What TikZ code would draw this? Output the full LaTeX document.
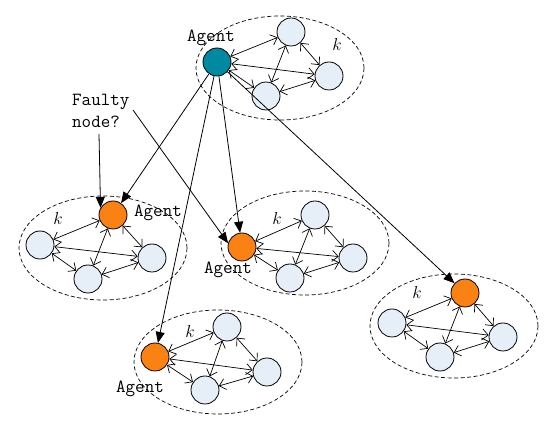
\documentclass[tikz,border=0pt]{standalone}
\usetikzlibrary{arrows.meta,shapes.geometric}
\definecolor{nodeblue}{RGB}{230,238,248}
\definecolor{agteal}{RGB}{0,137,160}
\definecolor{agorange}{RGB}{250,130,20}
\begin{document}
\begin{tikzpicture}[x=1pt,y=-1pt,
  vtx/.style={circle,draw,line width=0.8pt,fill=nodeblue,minimum size=28pt,inner sep=0pt},
  tealagent/.style={vtx,fill=agteal},
  orangeagent/.style={vtx,fill=agorange},
  cluster/.style={ellipse,draw,dash pattern=on 4pt off 2.5pt,line width=0.7pt,inner sep=0pt,minimum width=168pt,minimum height=104pt},
  link/.style={line width=0.7pt,{Straight Barb[length=6pt,width=11pt]}-{Straight Barb[length=6pt,width=11pt]}},
  call/.style={line width=0.8pt,-{Triangle[length=11pt,width=9pt]}},
  lbl/.style={font=\ttfamily\fontsize{18.5}{22}\selectfont,inner sep=0pt},
  kl/.style={font=\fontsize{17}{20}\selectfont,inner sep=0pt}]
\useasboundingbox (0,0) rectangle (550,422);

% clusters
\node[cluster] (C0) at (280,68) {};
\node[cluster] (C1) at (103,248) {};
\node[cluster] (C2) at (305,243) {};
\node[cluster] (C3) at (454,326) {};
\node[cluster] (C4) at (218,362) {};

% top cluster
\node[tealagent] (A0) at (217,62) {};
\node[vtx] (T1) at (291,32) {};
\node[vtx] (T2) at (329,76) {};
\node[vtx] (T3) at (266,96) {};
\node[lbl] (LA0) at (211,38) {Agent};
\node[kl] (K0) at (337,45) {$k$};

% left cluster
\node[orangeagent] (A1) at (113,215) {};
\node[vtx] (L1) at (40,245) {};
\node[vtx] (L2) at (152,258) {};
\node[vtx] (L3) at (88,279) {};
\node[lbl] (LA1) at (158,213) {Agent};
\node[kl] (K1) at (58,219) {$k$};

% middle cluster
\node[orangeagent] (A2) at (242,247) {};
\node[vtx] (M1) at (315,215) {};
\node[vtx] (M2) at (353,258) {};
\node[vtx] (M3) at (290,278) {};
\node[lbl] (LA2) at (228,270) {Agent};
\node[kl] (K2) at (277,219) {$k$};

% right cluster
\node[orangeagent] (A3) at (465,293) {};
\node[vtx] (R1) at (392,323) {};
\node[vtx] (R2) at (503,337) {};
\node[vtx] (R3) at (440,357) {};
\node[kl] (K3) at (417,293) {$k$};

% bottom cluster
\node[orangeagent] (A4) at (155,357) {};
\node[vtx] (B1) at (227,327) {};
\node[vtx] (B2) at (267,372) {};
\node[vtx] (B3) at (205,390) {};
\node[lbl] (LA4) at (140,389) {Agent};
\node[kl] (K4) at (190,332) {$k$};

% intra-cluster links
\foreach \a/\b/\c/\d in {A0/T1/T2/T3, A1/L1/L2/L3, A2/M1/M2/M3, A3/R1/R2/R3, A4/B1/B2/B3}{
  \draw[link] (\a) -- (\b);
  \draw[link] (\a) -- (\c);
  \draw[link] (\a) -- (\d);
  \draw[link] (\b) -- (\c);
  \draw[link] (\b) -- (\d);
  \draw[link] (\c) -- (\d);
}

% calls from top agent
\draw[call] (A0) -- (A1);
\draw[call] (A0) -- (A2);
\draw[call] (A0) -- (A4);
\draw[call] (A0) -- (A3);

% faulty node label
\node[lbl,anchor=north west,align=left] (F) at (72,94) {Faulty\\node?};
\coordinate (F1) at (99,134);
\coordinate (F2) at (133,110);
\draw[call] (F1) -- (A1.150);
\draw[call] (F2) -- (A2.165);
\end{tikzpicture}
\end{document}
